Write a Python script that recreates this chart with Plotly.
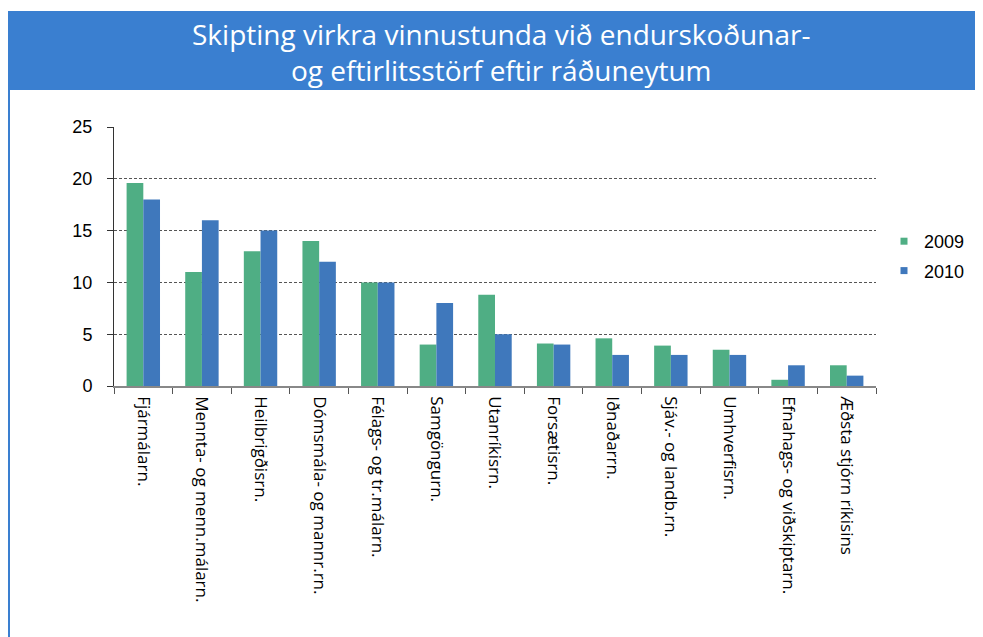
import plotly.graph_objects as go

categories = ["Fjármálarn.", "Mennta- og menn.málarn.", "Heilbrigðisrn.", "Dómsmála- og mannr.rn.",
              "Félags- og tr.málarn.", "Samgöngurn.", "Utanríkisrn.", "Forsætisrn.", "Iðnaðarrn.",
              "Sjáv.- og landb.rn.", "Umhverfisrn.", "Efnahags- og viðskiptarn.", "Æðsta stjórn ríkisins"]
v2009 = [19.6, 11.0, 13.0, 14.0, 10.0, 4.0, 8.8, 4.1, 4.6, 3.9, 3.5, 0.6, 2.0]
v2010 = [18.0, 16.0, 15.0, 12.0, 10.0, 8.0, 5.0, 4.0, 3.0, 3.0, 3.0, 2.0, 1.0]
series_names = ["2009", "2010"]
y_ticks = [0, 5, 10, 15, 20, 25]
title_text = "Skipting virkra vinnustunda við endurskoðunar-<br>og eftirlitsstörf eftir ráðuneytum"

GREEN = "#4FAE84"
BLUE = "#3F78BC"
BANNER = "#3A7FD0"

fig = go.Figure()
for i, (name, vals, col) in enumerate([(series_names[0], v2009, GREEN), (series_names[1], v2010, BLUE)]):
    fig.add_trace(go.Bar(x=categories, y=vals, name=name, marker=dict(color=col, line=dict(width=0)),
                         showlegend=False))
    fig.add_trace(go.Scatter(x=[None], y=[None], mode="markers", name=name, legendgroup="g%d" % i,
                             marker=dict(symbol="square", size=7, color=col)))

# page has an 8px body margin; figure coordinates below are relative to the figure
OFF = 8
W, H = 983 - OFF, 637 - OFF
L, T = 114 - OFF, 127 - OFF
R = W - (876 - OFF)
B = H - (386 - OFF)
pw = W - L - R
ph = H - T - B

def px_x(x):
    return (x - OFF - L) / pw

def px_y(y):
    return (H - B - (y - OFF)) / ph

fig.add_shape(type="rect", xref="paper", yref="paper",
              x0=px_x(8), x1=px_x(1000), y0=px_y(90), y1=px_y(11),
              fillcolor=BANNER, line=dict(width=0), layer="below")
fig.add_shape(type="line", xref="paper", yref="paper",
              x0=px_x(9), x1=px_x(9), y0=px_y(90), y1=px_y(660),
              line=dict(color=BANNER, width=2))

fig.add_annotation(text=title_text, xref="paper", yref="paper",
                   x=px_x(501), y=px_y(52), xanchor="center", yanchor="middle",
                   showarrow=False, align="center",
                   font=dict(family="Open Sans", size=28, color="white"))

fig.update_layout(
    width=W, height=H,
    margin=dict(l=L, r=R, t=T, b=B, autoexpand=False),
    paper_bgcolor="white", plot_bgcolor="white",
    barmode="group", bargap=0.43, bargroupgap=0.0,
    font=dict(family="Liberation Sans", size=17, color="#000000"),
    legend=dict(x=px_x(884), y=px_y(256), xanchor="left", yanchor="middle",
                font=dict(family="Liberation Sans", size=18), itemwidth=30,
                tracegroupgap=3, bgcolor="rgba(0,0,0,0)"),
    xaxis=dict(type="category", tickangle=90, ticks="outside", tickson="boundaries",
               ticklen=6, tickcolor="#555", showline=True, linecolor="#888", linewidth=1.5,
               ticklabelstandoff=5,
               tickfont=dict(family="Open Sans", size=17, color="#000"), showgrid=False),
    yaxis=dict(range=[0, 25], tickvals=y_ticks, ticks="outside", ticklen=6, tickcolor="#333",
               showline=True, linecolor="#333", linewidth=1, ticklabelstandoff=11,
               showgrid=True, gridcolor="#555", griddash="3px,2px", gridwidth=1,
               zeroline=False, tickfont=dict(family="Liberation Sans", size=18, color="#000")),
)

fig.write_html("out.html")
